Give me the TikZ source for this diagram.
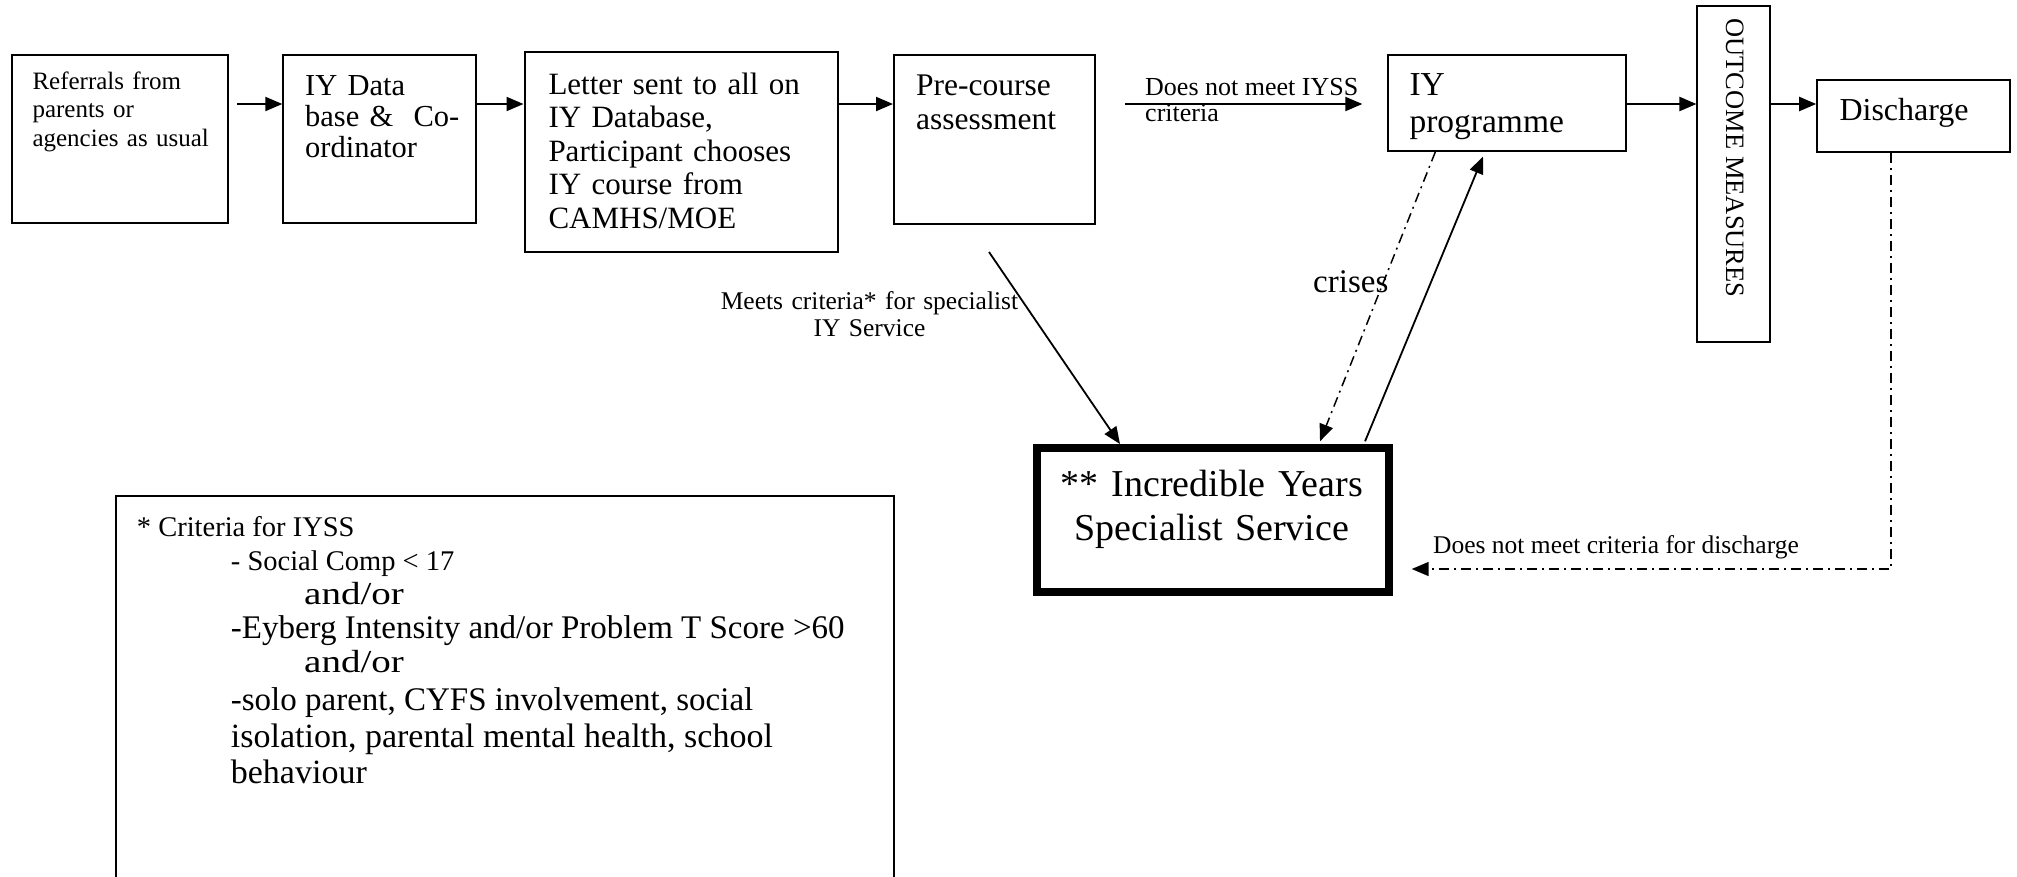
\documentclass[tikz,border=0pt]{standalone}
\usepackage{fontspec}
\usepackage{graphicx}
\setmainfont{Liberation Serif}
\usetikzlibrary{arrows.meta,calc}
\newcommand\myfs[2]{\fontsize{#1pt}{#2pt}\selectfont}
\begin{document}
\begin{tikzpicture}[x=1pt,y=-1pt,
  box/.style={draw, line width=2pt, inner sep=0pt, anchor=center},
  txt/.style={inner sep=0pt, text width=#1, align=left, anchor=base west},
  lbl/.style={inner sep=0pt, anchor=base west},
  tip/.style={-{Triangle[length=17pt,width=14pt]}},
  arr/.style={line width=2pt, tip},
  darr/.style={line width=1.8pt, tip},
  dd/.style={line width=1.5pt, dash pattern=on 10pt off 5pt on 2pt off 5pt},
]
\useasboundingbox (0,0) rectangle (2017,876);
\clip (0,0) rectangle (2017,876);

% boxes
\node[box, minimum width=216.6pt, minimum height=168.3pt] (A) at (120,139.2) {};
\node[box, minimum width=192.7pt, minimum height=168pt] (B) at (379.7,139) {};
\node[box, minimum width=313pt, minimum height=199.4pt] (C) at (681,152) {};
\node[box, minimum width=201pt, minimum height=169pt] (D) at (994.5,139.5) {};
\node[box, minimum width=237.7pt, minimum height=96pt] (E) at (1507.2,103) {};
\node[box, minimum width=72.5pt, minimum height=335.7pt] (F) at (1733.7,173.9) {};
\node[box, minimum width=192.8pt, minimum height=72pt] (G) at (1913.6,116) {};
\node[box, line width=8pt, minimum width=352pt, minimum height=143.7pt] (H) at (1212.7,519.9) {};
\node[box, minimum width=778pt, minimum height=440pt] (I) at (505,716) {};

% box texts
\node[txt=200pt, font=\myfs{25}{28.5}] (tA) at (32.3,89.3) {Referrals from\\parents or\\agencies as usual};
\node[txt=180pt, font=\myfs{30.5}{31}] (tB) at (305,95) {IY Data\\base \&\ \ Co-\\ordinator};
\node[txt=300pt, font=\myfs{31}{33.5}] (tC) at (548.3,94) {Letter sent to all on\\IY Database,\\Participant chooses\\IY course from\\CAMHS/MOE};
\node[txt=180pt, font=\myfs{31.5}{34.5}] (tD) at (916,95) {Pre-course\\assessment};
\node[txt=210pt, font=\myfs{33.5}{37}] (tE) at (1409.3,95) {IY\\programme};
\node[inner sep=0pt, rotate=-90, anchor=base west] (tF) at (1726,18.3) {\myfs{26.5}{26.5}OUTCOME MEASURES};
\node[lbl, font=\myfs{32}{32}] (tG) at (1839.3,120) {Discharge};
\node[inner sep=0pt, text width=340pt, align=center, anchor=base, font=\myfs{38}{43.5}] (tH) at (1212,496.7) {** Incredible Years\\Specialist Service};

% criteria box text
\node[lbl, font=\myfs{28.5}{28}] (I1) at (136.7,536.5) {* Criteria for IYSS};
\node[lbl, font=\myfs{28.5}{28}] (I2) at (230.7,570.5) {- Social Comp < 17};
\node[lbl, font=\myfs{32}{31}] (I3) at (304,604) {\scalebox{1.22}[1]{and/or}};
\node[lbl, font=\myfs{33}{31}] (I4) at (230.7,638) {-Eyberg Intensity and/or Problem T Score >60};
\node[lbl, font=\myfs{32}{31}] (I5) at (304,672) {\scalebox{1.22}[1]{and/or}};
\node[lbl, font=\myfs{33}{32.5}] (I6) at (230.7,710) {-solo parent, CYFS involvement, social};
\node[lbl, font=\myfs{34}{33}] (I7) at (230.7,747) {isolation, parental mental health, school};
\node[lbl, font=\myfs{34}{33}] (I8) at (230.7,783.5) {behaviour};

% labels
\node[lbl, font=\myfs{26}{26}] (l1) at (1145,95) {Does not meet IYSS};
\node[lbl, font=\myfs{26}{26}] (l2) at (1145,121) {criteria};
\node[inner sep=0pt, text width=320pt, align=center, anchor=base, font=\myfs{25.5}{27}] (l3) at (869.5,309) {Meets criteria* for specialist\\IY Service};
\node[lbl, font=\myfs{33}{33}] (l4) at (1313,292) {crises};
\node[lbl, font=\myfs{25.5}{25.5}] (l5) at (1433,553) {Does not meet criteria for discharge};

% connectors
\coordinate (row) at (0,104);
\draw[arr, shorten <=8pt] (A.east |- row) -- (B.west |- row);
\draw[arr] (B.east |- row) -- (C.west |- row);
\draw[arr] (C.east |- row) -- (D.west |- row);
\draw[arr, shorten <=29pt, shorten >=25pt] (D.east |- row) -- (E.west |- row);
\draw[arr] (E.east |- row) -- (F.west |- row);
\draw[arr] (F.east |- row) -- (G.west |- row);

\coordinate (m0) at (989,252);
\draw[darr] (m0) -- ($(H.north west)!0.2425!(H.north east)$);
\draw[dd, tip, shorten >=3pt] ($(E.south west)!0.2!(E.south east)$) -- ($(H.north west)!0.795!(H.north east)$);
\draw[darr, shorten <=3pt, shorten >=5pt] ($(H.north west)!0.92!(H.north east)$) -- ($(E.south west)!0.407!(E.south east)$);

\coordinate (gs) at ($(G.south west)!0.385!(G.south east)$);
\coordinate (de) at (1411.7,569);
\draw[dd, tip] (gs) -- (gs |- de) -- (de);
\end{tikzpicture}
\end{document}
